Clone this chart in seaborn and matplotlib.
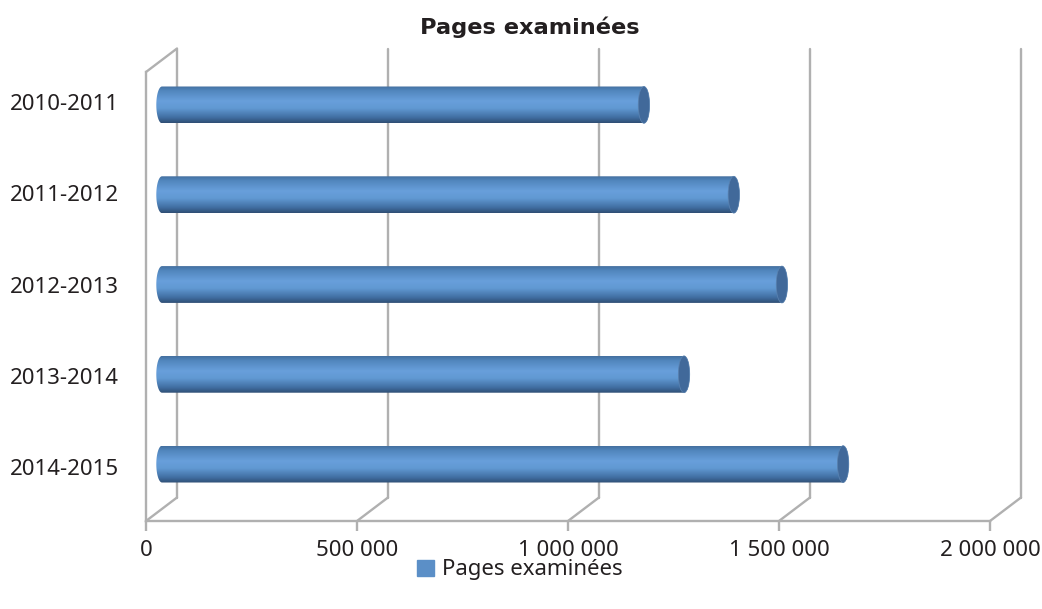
"""
horizontal cylinder bars on a fake 3d frame
"""

import matplotlib

matplotlib.use("Agg")
import matplotlib.pyplot as plt
from matplotlib.colors import LinearSegmentedColormap
from matplotlib.patches import Ellipse
from matplotlib.path import Path
from matplotlib.transforms import ScaledTranslation
import numpy as np
import pandas as pd
import seaborn as sns

years = ["2010-2011", "2011-2012", "2012-2013", "2013-2014", "2014-2015"]
pages = [1142000, 1355000, 1469000, 1237000, 1614000]
ticks = [0, 500000, 1000000, 1500000, 2000000]
tick_labels = ["0", "500 000", "1 000 000", "1 500 000", "2 000 000"]
series_name = "Pages examinées"

W, H = 1042, 609
GREY = "#b0b0b0"
TEXT = "#231f20"
CAP_W = 27000


def px_axes(fig, left, top, right, bottom):
    return fig.add_axes([left / W, 1 - bottom / H, (right - left) / W, (bottom - top) / H])


def draw_frame(fig, ax):
    depth = ScaledTranslation(31 / 100, 23.5 / 100, fig.dpi_scale_trans)
    back = ax.transData + depth
    for t in ticks:
        ax.plot([t, t], [0, 1], color=GREY, lw=1.7, transform=back, clip_on=False)
        # floor diagonals, front to back
        x0, y0 = ax.transData.transform((t, 0))
        x1, y1 = back.transform((t, 0))
        ax.plot([x0, x1], [y0, y1], color=GREY, lw=1.7, transform=None, clip_on=False)
    x0, y0 = ax.transData.transform((0, 1))
    x1, y1 = back.transform((0, 1))
    ax.plot([x0, x1], [y0, y1], color=GREY, lw=1.7, transform=None, clip_on=False)

    ax.set_xlim(0, ticks[-1])
    ax.set_ylim(0, 1)
    ax.set_xticks(ticks, tick_labels)
    ax.set_yticks([])
    ax.tick_params(axis="x", bottom=True, length=7.5, width=1.7, color=GREY, labelsize=16,
                   labelcolor=TEXT, pad=6.5)
    sns.despine(ax=ax)
    for side in ("left", "bottom"):
        ax.spines[side].set_color(GREY)
        ax.spines[side].set_linewidth(1.7)


def shade_bars(fig, ax):
    cmap = LinearSegmentedColormap.from_list(
        "cyl", [(0, "#44709f"), (0.12, "#5186bd"), (0.4, "#689fdb"),
                (0.6, "#6199d3"), (0.85, "#416fa2"), (1, "#2f4e74")])
    grad = np.linspace(0, 1, 128).reshape(-1, 1)
    arc = np.linspace(np.pi / 2, 3 * np.pi / 2, 40)
    for bar in list(ax.patches):
        x, y = bar.get_x(), bar.get_y()
        w, h = bar.get_width(), bar.get_height()
        yc = y + h / 2
        bar.set_visible(False)
        # outline of the cylinder: rounded on both ends
        left = np.column_stack([x + CAP_W / 2 * np.cos(arc), yc - h / 2 * np.sin(arc)])
        right = np.column_stack([x + w - CAP_W / 2 * np.cos(arc), yc + h / 2 * np.sin(arc)])
        body = Path(np.vstack([left, right, left[:1]]), closed=True)
        im = ax.imshow(grad, cmap=cmap, aspect="auto", zorder=3,
                       extent=[x - CAP_W, x + w + CAP_W, y + h, y])
        im.set_clip_path(body, ax.transData)
        im.set_clip_box(fig.bbox)
        ax.add_patch(Ellipse((x + w, yc), CAP_W, h, facecolor="#41699a",
                             edgecolor="#5b83b0", lw=0.5, zorder=4, clip_on=False))


def main():
    sns.set_theme(style="white")
    plt.rcParams["font.family"] = ["Noto Sans", "DejaVu Sans"]

    fig = plt.figure(figsize=(W / 100, H / 100), dpi=100)

    frame = px_axes(fig, 146, 72, 990, 521)
    frame.set_xlim(0, ticks[-1])
    frame.set_ylim(0, 1)
    draw_frame(fig, frame)

    ax = px_axes(fig, 162, 60, 1006, 509)
    ax.patch.set_alpha(0)
    quant = pd.DataFrame({"year": years, "pages": pages})
    sns.barplot(quant, x="pages", y="year", ax=ax, color="#5b8fc7", width=0.41,
                saturation=1, orient="h")
    shade_bars(fig, ax)
    ax.set_xlim(0, ticks[-1])
    ax.set_ylim(4.5, -0.5)
    ax.set_xticks([])
    ax.set_xlabel("")
    ax.set_ylabel("")
    # labels sit on a slightly wider spacing than the bars
    ax.set_yticks(np.arange(5) * 1.017 - 0.033, years)
    ax.tick_params(axis="y", length=0, labelsize=16, labelcolor=TEXT, pad=31)
    sns.despine(ax=ax, left=True, bottom=True)

    fig.text(530 / W, 1 - 27 / H, series_name, ha="center", va="center", family="DejaVu Sans",
             fontsize=16.2, fontweight="bold", color=TEXT)

    handle = plt.Rectangle((0, 0), 1, 1, color="#5b8fc7")
    fig.legend([handle], [series_name], loc="center", bbox_to_anchor=(520 / W, 1 - 570 / H),
               frameon=False, fontsize=16, labelcolor=TEXT, handlelength=0.75,
               handleheight=0.75, handletextpad=0.35)

    fig.savefig("out.png", dpi=100)


main()
